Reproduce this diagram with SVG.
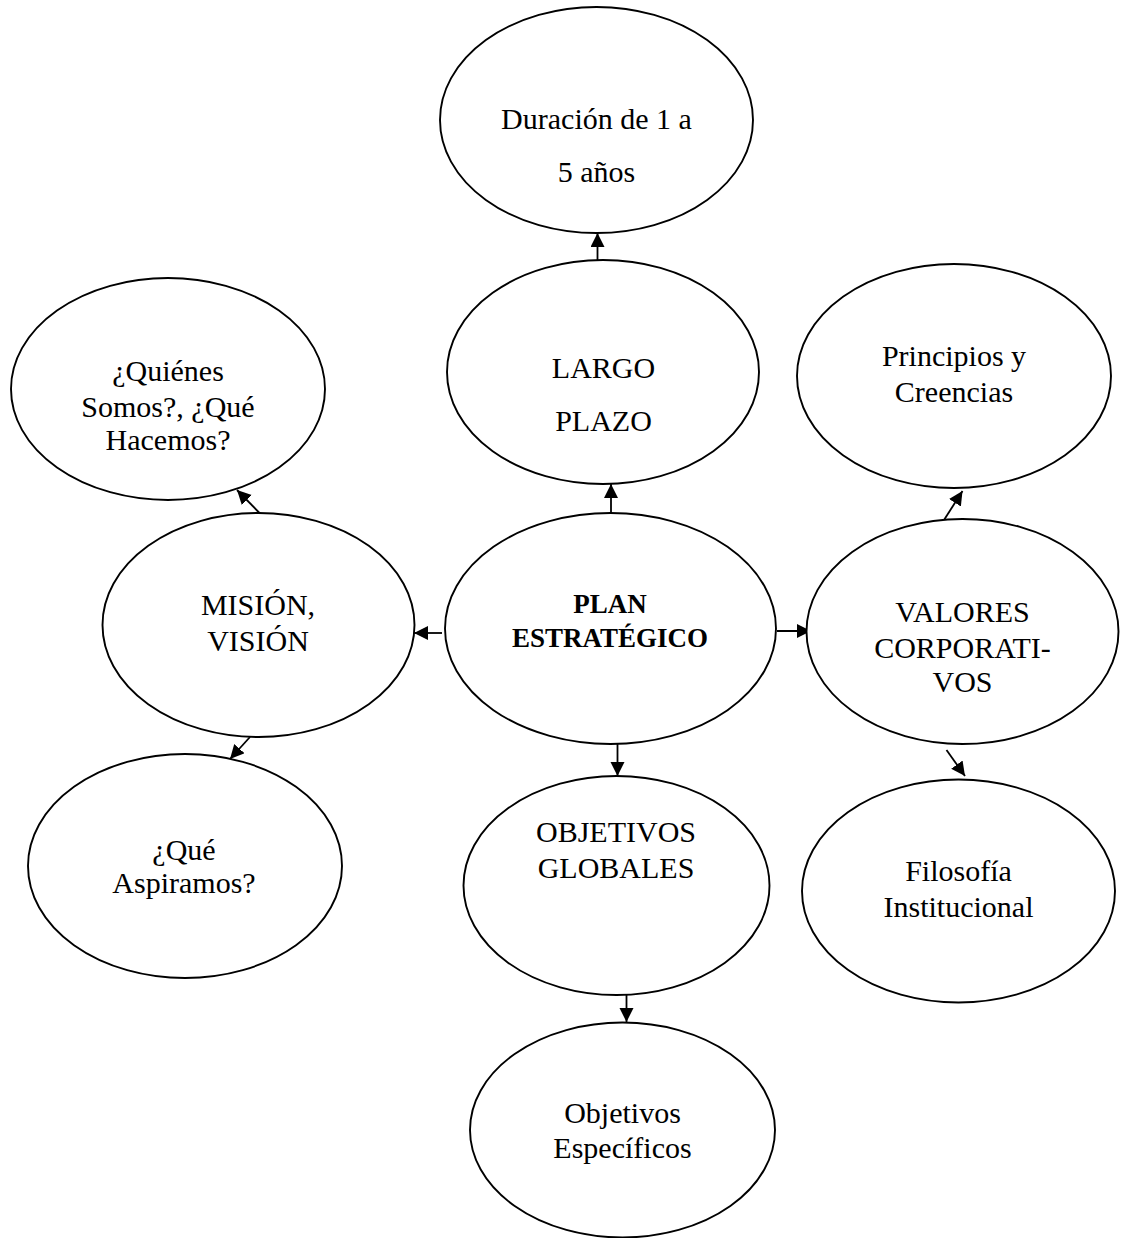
<svg xmlns="http://www.w3.org/2000/svg" width="1121" height="1238" viewBox="0 0 1121 1238">
  <style>
    .node ellipse { fill: #ffffff; stroke: #000000; stroke-width: 1.9; }
    .node text { font-family: "Liberation Serif", "Times New Roman", serif; font-size: 30px; fill: #000000; text-anchor: middle; }
    .node text.bold { font-weight: bold; font-size: 27px; }
    .edge { stroke: #000000; stroke-width: 1.8; fill: none; marker-end: url(#arrow); }
  </style>
  <defs>
    <marker id="arrow" markerUnits="userSpaceOnUse" markerWidth="15" markerHeight="15" refX="14" refY="7" orient="auto">
      <path d="M0,0 L14,7 L0,14 Z" fill="#000000"/>
    </marker>
  </defs>
  <rect width="1121" height="1238" fill="#ffffff"/>

  <!-- connectors -->
  <g id="connectors">
    <line class="edge" x1="597.5" y1="260" x2="597.5" y2="233"/>
    <line class="edge" x1="611" y1="513" x2="611" y2="484"/>
    <line class="edge" x1="442" y1="633" x2="414" y2="633"/>
    <line class="edge" x1="777" y1="631" x2="811" y2="631"/>
    <line class="edge" x1="617.5" y1="744" x2="617.5" y2="776"/>
    <line class="edge" x1="626.5" y1="993" x2="626.5" y2="1022"/>
    <line class="edge" x1="262" y1="515.5" x2="237" y2="490"/>
    <line class="edge" x1="250" y1="737" x2="230" y2="759"/>
    <line class="edge" x1="944" y1="520" x2="962.5" y2="491"/>
    <line class="edge" x1="946.5" y1="750" x2="965" y2="776"/>
  </g>

  <g id="node-duracion" class="node">
    <ellipse cx="596.5" cy="120" rx="156.5" ry="113"/>
    <text x="596.5" y="129">Duración de 1 a</text>
    <text x="596.5" y="182">5 años</text>
  </g>

  <g id="node-largo-plazo" class="node">
    <ellipse cx="603" cy="372" rx="156" ry="112"/>
    <text x="603.5" y="378">LARGO</text>
    <text x="603.5" y="431">PLAZO</text>
  </g>

  <g id="node-quienes" class="node">
    <ellipse cx="168" cy="389" rx="157" ry="111"/>
    <text x="168" y="381">¿Quiénes</text>
    <text x="168" y="417">Somos?, ¿Qué</text>
    <text x="168" y="450">Hacemos?</text>
  </g>

  <g id="node-principios" class="node">
    <ellipse cx="954" cy="376" rx="157" ry="112"/>
    <text x="954" y="366">Principios y</text>
    <text x="954" y="402">Creencias</text>
  </g>

  <g id="node-mision" class="node">
    <ellipse cx="258.5" cy="625" rx="156" ry="112"/>
    <text x="258" y="615">MISIÓN,</text>
    <text x="258" y="651">VISIÓN</text>
  </g>

  <g id="node-plan" class="node">
    <ellipse cx="610.5" cy="628.5" rx="165.5" ry="115.5"/>
    <text class="bold" x="610" y="613">PLAN</text>
    <text class="bold" x="610" y="647">ESTRATÉGICO</text>
  </g>

  <g id="node-valores" class="node">
    <ellipse cx="962.5" cy="631.5" rx="156" ry="112.5"/>
    <text x="962.5" y="622">VALORES</text>
    <text x="962.5" y="658">CORPORATI-</text>
    <text x="962.5" y="692">VOS</text>
  </g>

  <g id="node-aspiramos" class="node">
    <ellipse cx="185" cy="866" rx="157" ry="112"/>
    <text x="184" y="860">¿Qué</text>
    <text x="184" y="893">Aspiramos?</text>
  </g>

  <g id="node-objetivos-globales" class="node">
    <ellipse cx="616.5" cy="885.5" rx="153" ry="109.5"/>
    <text x="616" y="842">OBJETIVOS</text>
    <text x="616" y="878">GLOBALES</text>
  </g>

  <g id="node-filosofia" class="node">
    <ellipse cx="958.5" cy="891" rx="156.5" ry="111.5"/>
    <text x="958.5" y="881">Filosofía</text>
    <text x="958.5" y="917">Institucional</text>
  </g>

  <g id="node-objetivos-especificos" class="node">
    <ellipse cx="622.5" cy="1130" rx="152.5" ry="107.5"/>
    <text x="622.5" y="1123">Objetivos</text>
    <text x="622.5" y="1158">Específicos</text>
  </g>
</svg>
